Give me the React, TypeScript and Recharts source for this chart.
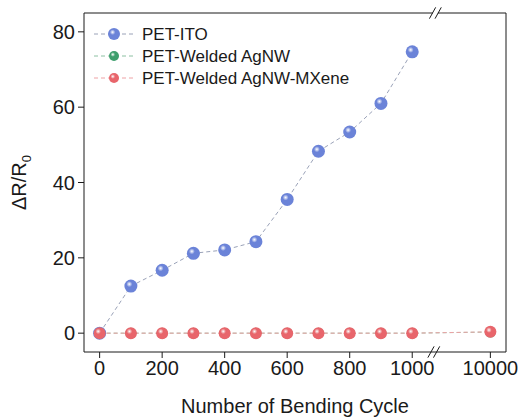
import React from "react";
import { LineChart, Line, XAxis, YAxis, ReferenceLine, Label } from "recharts";

// cycles on the x axis; 10000 sits after the axis break
const CYCLES = [0, 100, 200, 300, 400, 500, 600, 700, 800, 900, 1000, 10000];
const ITO = [0, 12.5, 16.7, 21.2, 22.1, 24.3, 35.5, 48.3, 53.4, 61.0, 74.7, null];
const AGNW = [0, 0, 0, 0, 0, 0, 0, 0, 0, 0, 0, 0.3];
const MXENE = [0, 0, 0, 0, 0, 0, 0, 0, 0, 0, 0, 0.35];
const X_TICKS = [0, 200, 400, 600, 800, 1000, 10000];
const Y_TICKS = [0, 20, 40, 60, 80];

// broken axis: everything past 1000 is squeezed into the segment after the break
const BREAK_AT = 1000;
const AFTER_BREAK = 1250;
const axisPos = (c: number) => (c <= BREAK_AT ? c : AFTER_BREAK);
const axisLabel = (p: number) => (p > BREAK_AT ? "10000" : String(p));
const X_DOMAIN = [-50, 1300];
const Y_DOMAIN = [-5, 85];

const SERIES = [
  { key: "ito", name: "PET-ITO", color: "#6b83d8", line: "#9aa2b8", grad: "g-blue", r: 6.5 },
  { key: "agnw", name: "PET-Welded AgNW", color: "#3d9e6c", line: "#8cc0a2", grad: "g-green", r: 5.5 },
  { key: "mxene", name: "PET-Welded AgNW-MXene", color: "#e8656b", line: "#eea2a5", grad: "g-red", r: 6 },
];

const data = CYCLES.map((c, i) => ({ x: axisPos(c), ito: ITO[i], agnw: AGNW[i], mxene: MXENE[i] }));

const FONT = "'Liberation Sans', Arial, sans-serif";

const Sphere = (grad: string, r: number) => (p: any) => {
  if (p.cx == null || p.cy == null || p.value == null) return <g key={p.index} />;
  return <circle key={p.index} cx={p.cx} cy={p.cy} r={r} fill={`url(#${grad})`} />;
};

function LegendBox() {
  return (
    <svg width={280} height={70} style={{ position: "absolute", left: 90, top: 23 }}>
      {SERIES.map((s, i) => (
        <g key={s.key} transform={`translate(0, ${11 + i * 22})`}>
          <line x1={4} x2={44} y1={0} y2={0} stroke={s.line} strokeDasharray="4 3" strokeWidth={1} />
          <circle cx={24} cy={0} r={i === 0 ? 6 : 5} fill={`url(#${s.grad})`} />
          <text x={52} y={6} fontSize={17} fontFamily={FONT} fill="#1a1a1a">
            {s.name}
          </text>
        </g>
      ))}
    </svg>
  );
}

function YTitle(props: any) {
  const { viewBox } = props;
  const cx = 26;
  const cy = viewBox.y + viewBox.height / 2;
  return (
    <text transform={`translate(${cx}, ${cy}) rotate(-90)`} textAnchor="middle" fontSize={20} fontFamily={FONT} fill="#1a1a1a">
      ΔR/R<tspan fontSize={13} dy={5}>0</tspan>
    </text>
  );
}

// "//" break marks, in data units around the axis line, with a gap cut into the frame
const breakGap = (x: number, y: number) => [{ x: x + 1, y }, { x: x + 17, y }];
const breakMark = (x: number, y: number) => [
  [{ x: x - 10, y: y - 1.5 }, { x: x + 10, y: y + 1.5 }],
  [{ x: x + 8, y: y - 1.5 }, { x: x + 28, y: y + 1.5 }],
];

export default function App() {
  return (
    <div style={{ position: "absolute", left: 0, top: 0, width: 522, height: 419, background: "#fff" }}>
      <svg width={0} height={0} style={{ position: "absolute" }}>
        <defs>
          {SERIES.map((s) => (
            <radialGradient key={s.grad} id={s.grad} cx="38%" cy="35%" r="65%">
              <stop offset="0%" stopColor="#ffffff" stopOpacity={0.95} />
              <stop offset="35%" stopColor={s.color} />
              <stop offset="100%" stopColor={s.color} stopOpacity={1} />
            </radialGradient>
          ))}
        </defs>
      </svg>
      <LineChart width={522} height={419} data={data} margin={{ top: 13, right: 16, left: 0, bottom: 0 }}>
        <XAxis
          dataKey="x"
          type="number"
          domain={X_DOMAIN}
          ticks={X_TICKS.map(axisPos)}
          tickFormatter={axisLabel}
          height={67}
          stroke="#1a1a1a"
          tickSize={6}
          tick={{ fontSize: 20, fontFamily: FONT, fill: "#1a1a1a" }}
          tickMargin={3}
          interval={0}
        >
          <Label value="Number of Bending Cycle" position="insideBottom" offset={6} style={{ fontSize: 20, fontFamily: FONT, fill: "#1a1a1a" }} />
        </XAxis>
        <YAxis
          type="number"
          domain={Y_DOMAIN}
          ticks={Y_TICKS}
          width={84}
          stroke="#1a1a1a"
          tickSize={6}
          tick={{ fontSize: 20, fontFamily: FONT, fill: "#1a1a1a" }}
          tickMargin={3}
          interval={0}
        >
          <Label content={<YTitle />} />
        </YAxis>
        <ReferenceLine y={Y_DOMAIN[1]} stroke="#1a1a1a" strokeWidth={1} />
        <ReferenceLine x={X_DOMAIN[1]} stroke="#1a1a1a" strokeWidth={1} />
        <ReferenceLine segment={breakGap(1060, Y_DOMAIN[0]) as any} stroke="#ffffff" strokeWidth={3} ifOverflow="visible" />
        <ReferenceLine segment={breakGap(1065, Y_DOMAIN[1]) as any} stroke="#ffffff" strokeWidth={3} ifOverflow="visible" />
        {[...breakMark(1060, Y_DOMAIN[0]), ...breakMark(1065, Y_DOMAIN[1])].map((seg, i) => (
          <ReferenceLine key={i} segment={seg as any} stroke="#1a1a1a" strokeWidth={1} ifOverflow="visible" />
        ))}
        {SERIES.map((s) => (
          <Line
            key={s.key}
            dataKey={s.key}
            name={s.name}
            stroke={s.line}
            strokeWidth={1}
            strokeDasharray="4 3"
            dot={Sphere(s.grad, s.r)}
            activeDot={false}
            isAnimationActive={false}
            connectNulls={false}
          />
        ))}
      </LineChart>
      <LegendBox />
    </div>
  );
}
